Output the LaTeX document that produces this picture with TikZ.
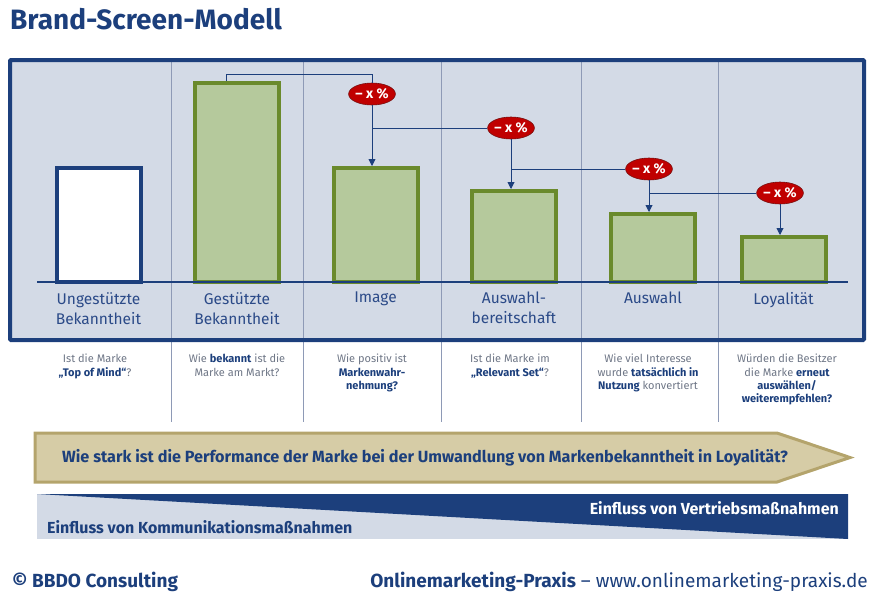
\documentclass[tikz,border=0pt]{standalone}
\usepackage{fontspec}
\setmainfont{Fira Sans}
\newfontfamily\condfont[FakeStretch=0.82]{Fira Sans}
\usepackage{tikz}
\usetikzlibrary{positioning, arrows.meta, shapes.geometric}
\definecolor{bsblue}{HTML}{1C3F7C}
\definecolor{labelblue}{HTML}{2B4A88}
\definecolor{panelgray}{HTML}{D3DAE6}
\definecolor{sepgray}{HTML}{8E9AB6}
\definecolor{bargreen}{HTML}{6A8A2C}
\definecolor{barfill}{HTML}{B5C99C}
\definecolor{dropred}{HTML}{C00000}
\definecolor{dropedge}{HTML}{7A1010}
\definecolor{qgray}{HTML}{6E7686}
\definecolor{goldedge}{HTML}{B4A46C}
\definecolor{goldfill}{HTML}{D6CCA6}

\newcommand{\qb}[1]{\textcolor{bsblue}{\textbf{#1}}}

\tikzset{
    panelborder/.style={draw=bsblue, line width=4pt, rounded corners=1pt},
    sepline/.style={draw=sepgray, line width=0.8pt},
    groundline/.style={draw=bsblue, line width=2.5pt},
    greenbar/.style={draw=bargreen, fill=barfill, line width=4pt,
        minimum width=84pt, anchor=south, inner sep=0pt},
    whitebar/.style={greenbar, draw=bsblue, fill=white},
    drop/.style={ellipse, draw=dropedge, fill=dropred, line width=0.6pt,
        minimum width=46pt, minimum height=22pt, inner sep=0pt, text=white,
        font=\bfseries\fontsize{14}{14}\selectfont},
    conn/.style={draw=bsblue, line width=0.9pt},
    barlabel/.style={anchor=north, align=center, inner sep=0pt,
        text=labelblue, font=\fontsize{15.5}{20}\selectfont},
    question/.style={anchor=north, align=center, inner sep=0pt,
        text=qgray, font=\fontsize{11}{13.3}\selectfont},
    bandtext/.style={inner sep=0pt, font=\bfseries\fontsize{16}{16}\selectfont},
}

\begin{document}
\begin{tikzpicture}[x=1pt, y=-1pt]
    \useasboundingbox (0,0) rectangle (878,600);

    \node[anchor=base west, inner sep=0pt, text=bsblue,
          font=\bfseries\fontsize{28}{28}\selectfont] (title) at (10,29) {Brand-Screen-Modell};

    % panel with the funnel
    \fill[panelgray] (10,60) rectangle (864,340);
    \foreach \x in {171,303,441,581,718}
        \draw[sepline] (\x,60) -- (\x,422);

    \node[whitebar, minimum height=114pt] (ungest) at (98.5,284) {};
    \foreach \name/\cx/\h in {gest/237/199, image/375.5/114, ausbereit/514/91,
                              auswahl/653/68, loyal/783.5/45}
        \node[greenbar, minimum height=\h pt] (\name) at (\cx,284) {};

    \node[drop] (d1) at (372,94) {– x \%};
    \node[drop] (d2) at (511,128) {– x \%};
    \node[drop] (d3) at (649,169) {– x \%};
    \node[drop] (d4) at (780,193) {– x \%};
    \coordinate (k1) at (226,74);

    \draw[conn] (gest.north -| k1) -- (k1) -| (d1);
    \draw[conn] (d1 |- d2) -- (d2);
    \draw[conn] (d2 |- d3) -- (d3);
    \draw[conn] (d3 |- d4) -- (d4);
    \draw[conn, -{Triangle[width=7pt, length=7pt]}] (d1) -- (d1 |- image.north);
    \draw[conn, -{Triangle[width=7pt, length=7pt]}] (d2) -- (d2 |- ausbereit.north);
    \draw[conn, -{Triangle[width=7pt, length=7pt]}] (d3) -- (d3 |- auswahl.north);
    \draw[conn, -{Triangle[width=7pt, length=7pt]}] (d4) -- (d4 |- loyal.north);

    \draw[groundline] (37,282) -- (848,282);

    \node[barlabel] (l1) at (98.5,292) {Ungestützte\\Bekanntheit};
    \node[barlabel] (l2) at (237,292) {Gestützte\\Bekanntheit};
    \node[barlabel] (l3) at (375.5,292) {Image};
    \node[barlabel] (l4) at (514,292) {Auswahl-\\bereitschaft};
    \node[barlabel] (l5) at (653,292) {Auswahl};
    \node[barlabel] (l6) at (783.5,292) {Loyalität};

    \draw[panelborder] (10,60) rectangle (864,340);

    % questions
    \node[question] (q1) at (95,354) {Ist die Marke\\\qb{„Top of Mind“}?};
    \node[question] (q2) at (237,354) {Wie \qb{bekannt} ist die\\Marke am Markt?};
    \node[question] (q3) at (372,354) {Wie positiv ist\\\qb{Markenwahr-}\\\qb{nehmung?}};
    \node[question] (q4) at (510,354) {Ist die Marke im\\\qb{„Relevant Set“}?};
    \node[question] (q5) at (648,354) {Wie viel Interesse\\wurde \qb{tatsächlich in}\\\qb{Nutzung} konvertiert};
    \node[question] (q6) at (787,354) {Würden die Besitzer\\die Marke \qb{erneut}\\\qb{auswählen/}\\\qb{weiterempfehlen?}};

    % performance arrow
    \filldraw[draw=goldedge, fill=goldfill, line width=3pt, line join=miter]
        (35,433) -- (777,433) -- (850,457.5) -- (777,482) -- (35,482) -- cycle;
    \node[inner sep=0pt, text=bsblue, font=\bfseries\fontsize{16.2}{16.2}\selectfont]
        (perf) at (425,457.5) {Wie stark ist die Performance der Marke bei der Umwandlung von Markenbekanntheit in Loyalität?};

    % influence band
    \fill[panelgray] (37,494) rectangle (848,539);
    \fill[bsblue] (37,494) -- (848,494) -- (848,539) -- cycle;
    \node[bandtext, anchor=base west, text=bsblue] (komm) at (47,533) {Einfluss von Kommunikationsmaßnahmen};
    \node[bandtext, anchor=base east, text=white] (vertr) at (839,514) {Einfluss von Vertriebsmaßnahmen};

    % footer
    \node[anchor=base west, inner sep=0pt, text=bsblue,
          font=\bfseries\fontsize{19}{19}\selectfont] (copy) at (12,587) {© BBDO Consulting};
    \node[anchor=base east, inner sep=0pt, text=bsblue,
          font=\fontsize{19}{19}\selectfont] (src) at (868,587) {\textbf{Onlinemarketing-Praxis} – www.onlinemarketing-praxis.de};
\end{tikzpicture}
\end{document}
